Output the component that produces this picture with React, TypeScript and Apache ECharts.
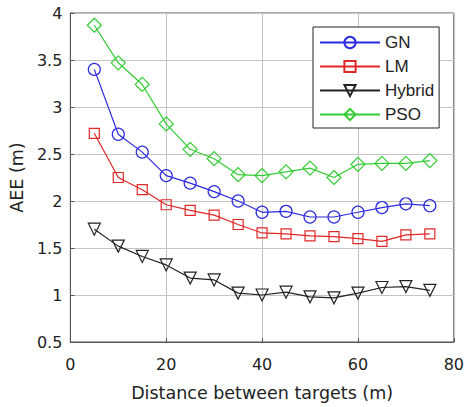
import React, { useEffect, useRef } from "react";
import * as echarts from "echarts";

const distances = [5, 10, 15, 20, 25, 30, 35, 40, 45, 50, 55, 60, 65, 70, 75];
const gnValues = [3.4, 2.71, 2.52, 2.27, 2.19, 2.1, 2.0, 1.88, 1.89, 1.83, 1.83, 1.88, 1.93, 1.97, 1.95];
const lmValues = [2.72, 2.25, 2.12, 1.96, 1.9, 1.85, 1.75, 1.66, 1.65, 1.63, 1.62, 1.6, 1.57, 1.64, 1.65];
const hybridValues = [1.7, 1.52, 1.41, 1.32, 1.18, 1.16, 1.02, 1.0, 1.03, 0.98, 0.97, 1.02, 1.08, 1.09, 1.05];
const psoValues = [3.87, 3.47, 3.24, 2.82, 2.55, 2.45, 2.28, 2.27, 2.31, 2.35, 2.25, 2.39, 2.4, 2.4, 2.43];

const seriesNames = ["GN", "LM", "Hybrid", "PSO"];
const seriesColors = ["#2a2ae0", "#e02828", "#222222", "#33cc33"];
const seriesSymbols = ["circle", "rect", "triangle", "diamond"];
const seriesSymbolSizes = [12, 10, 12, 14];
const seriesRotates = [0, 0, 180, 0];
const seriesValues = [gnValues, lmValues, hybridValues, psoValues];

const AXIS_FONT = "DejaVu Sans, Liberation Sans, sans-serif";
const LEGEND_FONT = "Liberation Sans, Arial, sans-serif";

export default function App() {
  const ref = useRef<HTMLDivElement>(null);
  useEffect(() => {
    if (!ref.current) return;
    const chart = echarts.init(ref.current, undefined, { renderer: "svg" });
    chart.setOption({
      animation: false,
      backgroundColor: "#ffffff",
      grid: {
        left: 70,
        top: 13,
        width: 386,
        height: 331,
        show: true,
        borderColor: "#555555",
        borderWidth: 1,
        backgroundColor: "transparent",
      },
      legend: {
        orient: "vertical",
        left: 313,
        top: 27,
        itemWidth: 60,
        itemHeight: 14,
        itemGap: 7,
        padding: [7, 5, 5, 6],
        borderColor: "#222",
        borderWidth: 1,
        backgroundColor: "#fff",
        textStyle: { fontFamily: LEGEND_FONT, fontSize: 17, color: "#222" },
        data: seriesNames,
      },
      xAxis: {
        type: "value",
        min: 0,
        max: 80,
        interval: 20,
        name: "Distance between targets (m)",
        nameLocation: "middle",
        nameGap: 42,
        nameTextStyle: { fontFamily: AXIS_FONT, fontSize: 17.5, color: "#222" },
        axisLine: { show: true, lineStyle: { color: "#555555" } },
        axisTick: { show: true, inside: true, length: 4, lineStyle: { color: "#555555" } },
        axisLabel: { fontFamily: AXIS_FONT, fontSize: 16, color: "#222", margin: 14 },
        splitLine: { show: true, lineStyle: { color: "#c4c4c4", width: 1 } },
      },
      yAxis: {
        type: "value",
        min: 0.5,
        max: 4,
        interval: 0.5,
        name: "AEE (m)",
        nameLocation: "middle",
        nameGap: 44,
        nameTextStyle: { fontFamily: AXIS_FONT, fontSize: 17.5, color: "#222" },
        axisLine: { show: true, lineStyle: { color: "#555555" } },
        axisTick: { show: true, inside: true, length: 4, lineStyle: { color: "#555555" } },
        axisLabel: { fontFamily: AXIS_FONT, fontSize: 16, color: "#222", margin: 8 },
        splitLine: { show: true, lineStyle: { color: "#c4c4c4", width: 1 } },
      },
      series: seriesNames.map((name, i) => ({
        name,
        type: "line",
        data: distances.map((d, j) => [d, seriesValues[i][j]]),
        symbol: seriesSymbols[i],
        symbolSize: seriesSymbolSizes[i],
        symbolRotate: seriesRotates[i],
        showAllSymbol: true,
        lineStyle: { color: seriesColors[i], width: 1.2 },
        itemStyle: { color: "transparent", borderColor: seriesColors[i], borderWidth: 1.2 },
        emphasis: { disabled: true },
      })),
    });
    return () => chart.dispose();
  }, []);
  return (
    <div
      ref={ref}
      style={{ position: "absolute", left: 0, top: 0, width: 467, height: 407 }}
    />
  );
}
